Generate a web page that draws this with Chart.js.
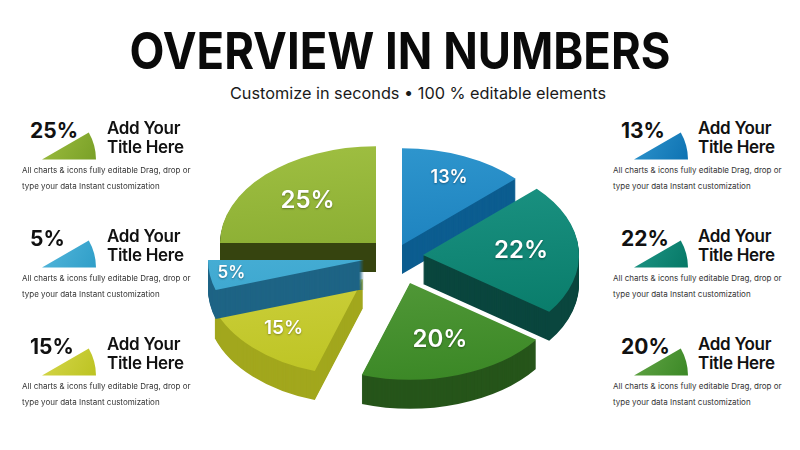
<!DOCTYPE html>
<html>
<head>
<meta charset="utf-8">
<script src="https://cdn.jsdelivr.net/npm/chart.js@4.4.0/dist/chart.umd.min.js"></script>
<style>
  html,body{margin:0;padding:0;background:#fff;}
  body{width:800px;height:450px;position:relative;overflow:hidden;font-family:Inter,"Open Sans",sans-serif;color:#111;}
  .abs{position:absolute;white-space:nowrap;}
  #title{left:0;width:800px;top:21px;text-align:center;font-size:51px;font-weight:700;line-height:60px;color:#0a0a0a;transform:scaleX(0.89);transform-origin:400px 0;}
  #sub{left:18px;width:800px;top:81px;text-align:center;font-size:16.3px;line-height:24px;color:#1a1a1a;}
  .pct{font-size:21px;font-weight:700;line-height:24px;color:#111;}
  .ttl{font-size:17px;font-weight:600;line-height:19.5px;color:#111;letter-spacing:-0.3px;}
  .dsc{font-size:8px;line-height:15.5px;color:#333;}
</style>
</head>
<body>
<div id="title" class="abs">OVERVIEW IN NUMBERS</div>
<div id="sub" class="abs">Customize in seconds • 100 % editable elements</div>
<canvas id="pie" class="abs" width="440" height="340" style="left:172px;top:92px;"></canvas>
<div id="panels"></div>
<script>
// ---- data ----
const sliceValues = [13, 22, 20, 15, 5, 25];
const sliceLabels = ['13%', '22%', '20%', '15%', '5%', '25%'];
const leftPanelSlices = [5, 4, 3];   // 25%, 5%, 15%
const rightPanelSlices = [0, 1, 2];  // 13%, 22%, 20%
const panelTitleLines = ['Add Your', 'Title Here'];
const panelTextLines = ['All charts & icons fully editable Drag, drop or', 'type your data Instant customization'];

// ---- styles ----
const TOP_LIGHT = ['#2e95cd', '#1e9686', '#63a546', '#d6d74c', '#55b7dc', '#9dbd40'];
const TOP_DARK  = ['#0e72b2', '#067866', '#3b8826', '#bcc322', '#2f9ec8', '#79a027'];
const SIDE      = ['#0c5d90', '#0a463e', '#26551a', '#a2a71d', '#1e6485', '#36440f'];
const EXPLODE_XY = [[10, -17], [31, -7], [18, 21], [-29, 17], [-28, -2], [-16, -19]];
const LABEL_R   = [0.76, 0.63, 0.62, 0.72, 0.86, 0.62];
const LABEL_SIZE = [18, 24, 24, 19, 17, 24];
const DRAW_ORDER = [5, 0, 1, 3, 4, 2];
const TILT = 0.62, DEPTH = 29;

function drawArcWith(arc, ctx, fill) {
  const proxy = Object.create(arc);
  proxy.options = Object.assign({}, arc.options, {backgroundColor: fill, borderWidth: 0, offset: 0, spacing: 0});
  arc.draw.call(proxy, ctx);
}

const pie3d = {
  id: 'pie3d',
  beforeDatasetsDraw(chart) {
    const ctx = chart.ctx;
    const arcs = chart.getDatasetMeta(0).data;
    const cx = arcs[0].x, cy = arcs[0].y;
    const tilt = () => { ctx.translate(cx, cy); ctx.scale(1, TILT); ctx.translate(-cx, -cy); };
    for (const i of DRAW_ORDER) {
      const arc = arcs[i];
      const [ex, ey] = EXPLODE_XY[i];
      for (let d = DEPTH; d >= 1; d--) {
        ctx.save();
        ctx.translate(ex, ey + d);
        tilt();
        drawArcWith(arc, ctx, SIDE[i]);
        ctx.restore();
      }
      ctx.save();
      ctx.translate(ex, ey);
      tilt();
      const g = ctx.createLinearGradient(cx, cy - arc.outerRadius, cx + arc.outerRadius * 0.3, cy + arc.outerRadius);
      g.addColorStop(0, TOP_LIGHT[i]);
      g.addColorStop(1, TOP_DARK[i]);
      drawArcWith(arc, ctx, g);
      ctx.restore();
    }
    ctx.save();
    ctx.textAlign = 'center';
    ctx.textBaseline = 'middle';
    ctx.fillStyle = '#ffffff';
    ctx.shadowColor = 'rgba(0,0,0,0.35)';
    ctx.shadowBlur = 2;
    ctx.shadowOffsetY = 1;
    arcs.forEach((arc, i) => {
      const half = (arc.startAngle + arc.endAngle) / 2;
      const r = arc.outerRadius * LABEL_R[i];
      const [ex, ey] = EXPLODE_XY[i];
      ctx.font = '600 ' + LABEL_SIZE[i] + 'px Inter';
      ctx.fillText(sliceLabels[i], cx + ex + Math.cos(half) * r, cy + ey + Math.sin(half) * r * TILT);
    });
    ctx.restore();
    return false;
  }
};

new Chart(document.getElementById('pie'), {
  type: 'pie',
  data: {
    labels: sliceLabels,
    datasets: [{
      data: sliceValues,
      backgroundColor: TOP_DARK,
      borderWidth: 0,
      radius: 156
    }]
  },
  options: {
    responsive: false,
    animation: false,
    events: [],
    layout: {padding: 0},
    plugins: {legend: {display: false}, tooltip: {enabled: false}}
  },
  plugins: [pie3d]
});

// ---- side panels ----
const BLOCK_TOPS = [118, 226, 334];
const SIDES = [
  {idx: leftPanelSlices, pctX: 30, iconX: 42, ttlX: 107, dscX: 22},
  {idx: rightPanelSlices, pctX: 621, iconX: 634, ttlX: 698, dscX: 613}
];
const panels = document.getElementById('panels');
function addDiv(cls, x, y, html) {
  const d = document.createElement('div');
  d.className = 'abs ' + cls;
  d.style.left = x + 'px';
  d.style.top = y + 'px';
  d.innerHTML = html;
  panels.appendChild(d);
  return d;
}
SIDES.forEach(side => {
  side.idx.forEach((si, k) => {
    const B = BLOCK_TOPS[k];
    addDiv('pct', side.pctX, B + 1, sliceLabels[si]);
    addDiv('ttl', side.ttlX, B + 0.5, panelTitleLines.join('<br>'));
    addDiv('dsc', side.dscX, B + 45, panelTextLines.map(s => s.replace(/&/g, '&amp;')).join('<br>'));
    const cv = document.createElement('canvas');
    cv.className = 'abs';
    cv.width = 54; cv.height = 28;
    cv.style.left = side.iconX + 'px';
    cv.style.top = (B + 42 - 28) + 'px';
    panels.appendChild(cv);
    new Chart(cv, {
      type: 'pie',
      data: {labels: [sliceLabels[si]], datasets: [{
        data: [sliceValues[si]],
        borderWidth: 0,
        backgroundColor: (c) => {
          const ca = c.chart.chartArea;
          if (!ca) return TOP_DARK[si];
          const g = c.chart.ctx.createLinearGradient(ca.left, ca.top, ca.right, ca.bottom);
          g.addColorStop(0, TOP_LIGHT[si]);
          g.addColorStop(1, TOP_DARK[si]);
          return g;
        }
      }]},
      options: {
        responsive: false, animation: false, events: [],
        rotation: 60, circumference: 30,
        layout: {padding: 0},
        plugins: {legend: {display: false}, tooltip: {enabled: false}}
      }
    });
  });
});
</script>
</body>
</html>
